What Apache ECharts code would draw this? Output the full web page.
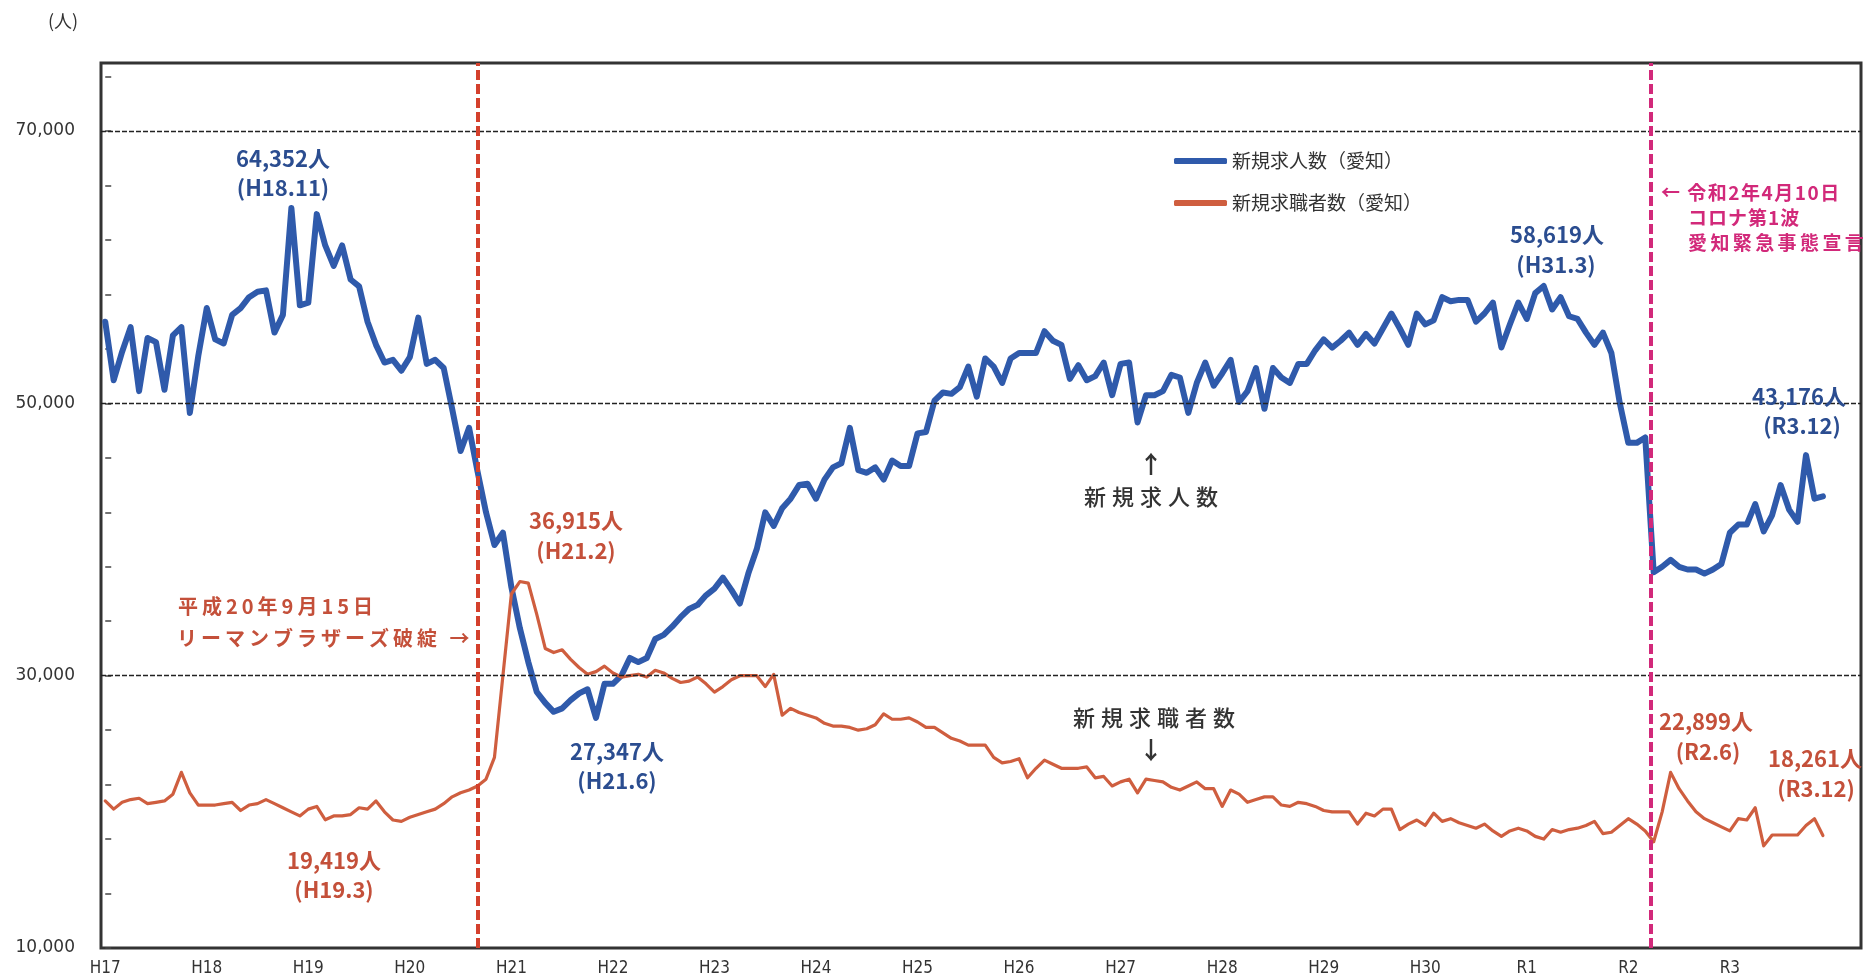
<!DOCTYPE html>
<html><head><meta charset="utf-8">
<script src="https://cdn.jsdelivr.net/npm/echarts@6/dist/echarts.min.js"></script>
<style>html,body{margin:0;padding:0;background:#fff}#c{width:1871px;height:978px}</style>
</head><body><div id="c"></div>
<script>
// Japanese era year labels (each label at January of that year)
const years = ['H17','H18','H19','H20','H21','H22','H23','H24','H25','H26','H27','H28','H29','H30','R1','R2','R3'];

// 新規求人数(愛知) – monthly, Jan H17 .. Dec R3
const jobOffers = [
  56000,51700,53800,55600,50900,54800,54500,51000,55000,55600,49300,53500, // H17
  57000,54700,54400,56500,57000,57800,58200,58300,55200,56500,64352,57200, // H18
  57400,63900,61600,60100,61600,59100,58600,56000,54300,53000,53200,52400, // H19
  53400,56300,52900,53200,52600,49600,46500,48200,45000,42000,39600,40500, // H20
  36500,33500,31000,28800,28000,27347,27600,28200,28700,29000,26900,29400, // H21
  29400,30000,31300,31000,31300,32700,33000,33600,34300,34900,35200,35900, // H22
  36400,37200,36300,35300,37500,39300,42000,41000,42300,43000,44000,44100, // H23
  43000,44400,45300,45600,48200,45100,44900,45300,44400,45800,45400,45400, // H24
  47800,47900,50200,50800,50700,51200,52700,50500,53300,52700,51500,53300, // H25
  53700,53700,53700,55300,54600,54300,51800,52800,51700,52000,53000,50600, // H26
  52900,53000,48600,50600,50600,50900,52100,51900,49300,51500,53000,51300, // H27
  52200,53200,50100,50900,52600,49600,52600,51900,51500,52900,52900,53900, // H28
  54700,54100,54600,55200,54300,55100,54400,55500,56600,55500,54300,56600, // H29
  55800,56100,57800,57500,57600,57600,56000,56600,57400,54100,55800,57400, // H30
  56200,58100,58619,56900,57800,56400,56200,55200,54300,55200,53700,50000, // R1
  47100,47100,47500,37600,38000,38500,38000,37800,37800,37500,37800,38200, // R2
  40500,41100,41100,42600,40600,41800,44000,42200,41300,46200,43000,43176  // R3
];

// 新規求職者数(愛知)
const jobSeekers = [
  20800,20200,20700,20900,21000,20600,20700,20800,21300,22900,21400,20500, // H17
  20500,20500,20600,20700,20100,20500,20600,20900,20600,20300,20000,19700, // H18
  20200,20400,19419,19700,19700,19800,20300,20200,20800,20000,19400,19300, // H19
  19600,19800,20000,20200,20600,21100,21400,21600,21900,22400,24000,30000, // H20
  36000,36915,36800,34500,32000,31700,31900,31200,30600,30100,30300,30700, // H21
  30200,29900,30000,30100,29900,30400,30200,29800,29500,29600,29900,29400, // H22
  28800,29200,29700,30000,30000,30000,29200,30100,27100,27600,27300,27100, // H23
  26900,26500,26300,26300,26200,26000,26100,26400,27200,26800,26800,26900, // H24
  26600,26200,26200,25800,25400,25200,24900,24900,24900,24000,23600,23700, // H25
  23900,22500,23200,23800,23500,23200,23200,23200,23300,22500,22600,21900, // H26
  22200,22400,21400,22400,22300,22200,21800,21600,21900,22200,21700,21700, // H27
  20400,21600,21300,20700,20900,21100,21100,20500,20400,20700,20600,20400, // H28
  20100,20000,20000,20000,19100,19900,19700,20200,20200,18700,19100,19400, // H29
  19000,19900,19300,19500,19200,19000,18800,19100,18600,18200,18600,18800, // H30
  18600,18200,18000,18700,18500,18700,18800,19000,19300,18400,18500,19000, // R1
  19500,19100,18600,17800,20000,22899,21700,20800,20000,19500,19200,18900, // R2
  18600,19500,19400,20300,17500,18300,18300,18300,18300,19000,19500,18261  // R3
];

const yTickValues = [10000,14000,18000,22000,26000,30000,34000,38000,42000,46000,50000,54000,58000,62000,66000,70000,74000];
const yLabelValues = [10000,30000,50000,70000];
const gridValues = [30000,50000,70000];
const lehmanMonth = 44;      // H20.9
const coronaMonth = 182.7;   // R2.4.10

const BLUE = '#2f5aab', RED = '#cf5e3f', BLUE_T = '#2b4d90', RED_T = '#c4503a', MAG = '#d2297a', DARK = '#333';
const JP = '"Noto Sans CJK JP","Noto Sans",sans-serif';

function txt(text, x, y, color, size, weight, align) {
  return { type: 'text', x: x, y: y, z: 100, silent: true,
    style: { text: text, fill: color, font: (weight||'bold') + ' ' + size + 'px ' + JP,
      textAlign: align || 'center', textVerticalAlign: 'middle', align: align || 'center', verticalAlign: 'middle' } };
}
// text with letter spacing: each character placed separately, widths measured
const mctx = document.createElement('canvas').getContext('2d');
function spaced(text, x, y, color, size, weight, spacing, align) {
  const font = weight + ' ' + size + 'px ' + JP;
  mctx.font = font;
  const chars = Array.from(text);
  const w = chars.map(c => mctx.measureText(c).width);
  const total = w.reduce((a, b) => a + b, 0) + spacing * (chars.length - 1);
  let cx = align === 'center' ? x - total / 2 : x;
  const children = chars.map((c, k) => {
    const el = { type: 'text', x: cx, y: y, z: 100, silent: true,
      style: { text: c, fill: color, font: font, textAlign: 'left', textVerticalAlign: 'middle', align: 'left', verticalAlign: 'middle' } };
    cx += w[k] + spacing;
    return el;
  });
  return { type: 'group', z: 100, silent: true, children: children };
}

const chart = echarts.init(document.getElementById('c'), null, { renderer: 'canvas' });
const option = {
  animation: false,
  backgroundColor: '#fff',
  grid: { left: 101, right: 10, top: 63, bottom: 30, show: true, borderColor: '#333', borderWidth: 3, backgroundColor: 'transparent' },
  xAxis: {
    type: 'value', min: -0.5, max: 207.5,
    axisLine: { show: false }, splitLine: { show: false }, axisTick: { show: false },
    axisLabel: { customValues: years.map((_, k) => k * 12), formatter: v => years[Math.round(v / 12)],
      fontFamily: '"Liberation Sans Narrow","DejaVu Sans Condensed",sans-serif', fontSize: 17, color: '#333', margin: 12 }
  },
  yAxis: {
    type: 'value', min: 10000, max: 75000,
    axisLine: { show: false }, splitLine: { show: false },
    axisTick: { show: true, inside: true, length: 6, customValues: yTickValues, lineStyle: { color: '#444', width: 1.5 } },
    axisLabel: { customValues: yLabelValues, formatter: v => v.toLocaleString('en-US'),
      fontFamily: '"DejaVu Sans",sans-serif', fontSize: 17, color: '#333', margin: 26 }
  },
  legend: {
    data: [{ name: '新規求人数（愛知）', icon: 'roundRect' }, { name: '新規求職者数（愛知）', icon: 'roundRect' }],
    orient: 'vertical', left: 1169, top: 145, itemWidth: 53, itemHeight: 6, itemGap: 20,
    textStyle: { fontFamily: JP, fontSize: 19, color: '#333', lineHeight: 22 }
  },
  series: [
    { name: 'grid', type: 'line', data: [], z: 1, silent: true,
      markLine: { silent: true, symbol: 'none', label: { show: false },
        lineStyle: { color: '#222', type: [5, 2], width: 1.3 },
        data: gridValues.map(v => ({ yAxis: v })) } },
    { name: '新規求人数（愛知）', type: 'line', z: 3, symbol: 'none', data: jobOffers.map((v, i) => [i, v]),
      lineStyle: { color: BLUE, width: 6, join: 'round', cap: 'round' }, itemStyle: { color: BLUE } },
    { name: '新規求職者数（愛知）', type: 'line', z: 4, symbol: 'none', data: jobSeekers.map((v, i) => [i, v]),
      lineStyle: { color: RED, width: 3.2, join: 'round', cap: 'round' }, itemStyle: { color: RED } },
    { name: 'events', type: 'line', data: [], z: 5, silent: true,
      markLine: { silent: true, symbol: 'none', label: { show: false },
        data: [
          { xAxis: lehmanMonth, lineStyle: { color: '#d4402c', width: 4, type: [10, 4] } },
          { xAxis: coronaMonth, lineStyle: { color: MAG, width: 4, type: [10, 4] } }
        ] } }
  ],
  graphic: [
    txt('(人)', 63, 21, '#333', 18, 'normal'),
    txt('64,352人', 283, 159, BLUE_T, 22), txt('(H18.11)', 283, 188, BLUE_T, 22),
    txt('36,915人', 576, 521, RED_T, 22), txt('(H21.2)', 576, 551, RED_T, 22),
    txt('27,347人', 617, 752, BLUE_T, 22), txt('(H21.6)', 617, 781, BLUE_T, 22),
    txt('19,419人', 334, 861, RED_T, 22), txt('(H19.3)', 334, 890, RED_T, 22),
    spaced('平成20年9月15日', 178, 606, RED_T, 20, 'bold', 4, 'left'),
    spaced('リーマンブラザーズ破綻 →', 177, 638, RED_T, 20, 'bold', 4, 'left'),
    txt('↑', 1151, 464, DARK, 24, 'bold'), spaced('新規求人数', 1151, 497, DARK, 22, '500', 6, 'center'),
    spaced('新規求職者数', 1154, 718, DARK, 22, '500', 6, 'center'), txt('↓', 1151, 750, DARK, 24, 'bold'),
    txt('58,619人', 1557, 235, BLUE_T, 22), txt('(H31.3)', 1556, 265, BLUE_T, 22),
    spaced('← 令和2年4月10日', 1661, 193, MAG, 19, 'bold', 1.5, 'left'),
    spaced('コロナ第1波', 1688, 218, MAG, 19, 'bold', 1, 'left'),
    spaced('愛知緊急事態宣言', 1688, 243, MAG, 19, 'bold', 3.4, 'left'),
    txt('43,176人', 1799, 397, BLUE_T, 22), txt('(R3.12)', 1802, 426, BLUE_T, 22),
    txt('22,899人', 1706, 722, RED_T, 22), txt('(R2.6)', 1708, 752, RED_T, 22),
    txt('18,261人', 1815, 759, RED_T, 22), txt('(R3.12)', 1816, 789, RED_T, 22)
  ]
};
chart.setOption(option);
</script></body></html>
